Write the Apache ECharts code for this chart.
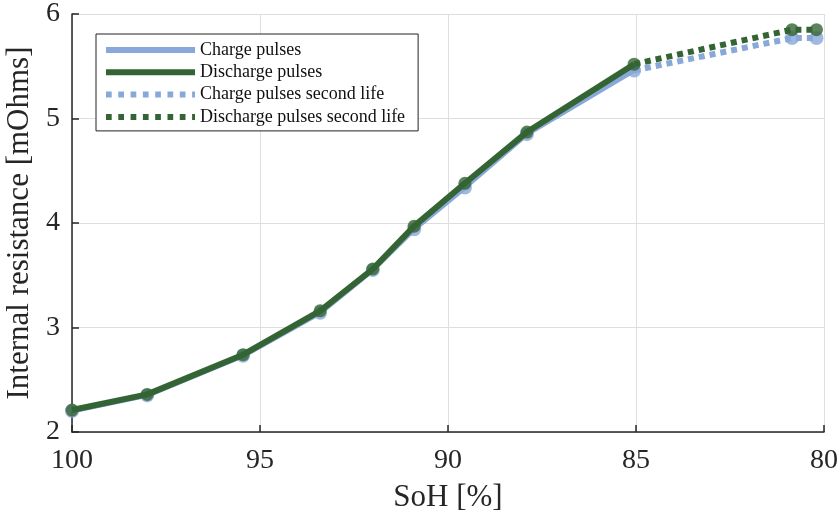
<!DOCTYPE html>
<html>
<head>
<meta charset="utf-8">
<script src="https://cdn.jsdelivr.net/npm/echarts@6/dist/echarts.min.js"></script>
<style>html,body{margin:0;padding:0;background:#fff}#c{width:840px;height:513px}</style>
</head>
<body>
<div id="c"></div>
<script>
// Data
const sohFirst = [100, 98, 95.45, 93.4, 92, 90.9, 89.55, 87.9, 85.05];
const chargeFirst = [2.2, 2.35, 2.73, 3.14, 3.55, 3.94, 4.34, 4.85, 5.46];
const dischargeFirst = [2.21, 2.36, 2.74, 3.16, 3.56, 3.97, 4.38, 4.87, 5.52];
const sohSecond = [85.05, 80.85, 80.2];
const chargeSecond = [5.46, 5.77, 5.77];
const dischargeSecond = [5.52, 5.85, 5.85];
const xTicks = [100, 95, 90, 85, 80];
const yTicks = [2, 3, 4, 5, 6];
const seriesNames = ['Charge pulses', 'Discharge pulses', 'Charge pulses second life', 'Discharge pulses second life'];

const blue = '#88a8d9';
const green = '#346434';
const font = '"Liberation Serif", "Times New Roman", serif';
const pair = (xs, ys) => xs.map((x, i) => [x, ys[i]]);

// legend icons: a solid bar and a row of square dots
const solidIcon = 'path://M0,0h89v6h-89z';
let dotPath = 'path://';
for (let k = 0; k < 8; k++) {
  const x0 = k * 12.3;
  const w = Math.min(5.7, 89 - x0);
  dotPath += `M${x0.toFixed(1)},0h${w.toFixed(1)}v6h-${w.toFixed(1)}z `;
}
const dotIcon = dotPath.trim();

const chart = echarts.init(document.getElementById('c'), null, {renderer: 'canvas'});
chart.setOption({
  animation: false,
  backgroundColor: '#fff',
  grid: {left: 72, right: 16, top: 14, bottom: 81, containLabel: false, outerBoundsMode: 'none'},
  legend: {
    left: 96, top: 34,
    orient: 'vertical',
    padding: [7, 13, 5, 10],
    itemGap: 4.3,
    itemWidth: 89, itemHeight: 6,
    borderColor: '#222', borderWidth: 1,
    backgroundColor: '#fff',
    textStyle: {fontFamily: font, fontSize: 18, color: '#111'},
    data: [
      {name: seriesNames[0], icon: solidIcon},
      {name: seriesNames[1], icon: solidIcon},
      {name: seriesNames[2], icon: dotIcon},
      {name: seriesNames[3], icon: dotIcon}
    ]
  },
  xAxis: {
    type: 'value', inverse: true, min: 80, max: 100, interval: 5,
    name: 'SoH [%]', nameLocation: 'middle', nameGap: 50,
    nameTextStyle: {fontFamily: font, fontSize: 31, color: '#262626'},
    axisLine: {show: true, lineStyle: {color: '#262626', width: 1.5}},
    axisTick: {show: true, inside: true, length: 7, lineStyle: {color: '#262626', width: 1.5}},
    axisLabel: {fontFamily: font, fontSize: 28, color: '#262626', margin: 15,
      formatter: v => xTicks.includes(v) ? String(v) : ''},
    splitLine: {show: true, lineStyle: {color: '#dedede', width: 1}}
  },
  yAxis: {
    type: 'value', min: 2, max: 6, interval: 1,
    name: 'Internal resistance [mOhms]', nameLocation: 'middle', nameGap: 29,
    nameTextStyle: {fontFamily: font, fontSize: 31, color: '#262626'},
    axisLine: {show: true, lineStyle: {color: '#262626', width: 1.5}},
    axisTick: {show: true, inside: true, length: 7, lineStyle: {color: '#262626', width: 1.5}},
    axisLabel: {fontFamily: font, fontSize: 28, color: '#262626', margin: 12,
      formatter: v => yTicks.includes(v) ? String(v) : ''},
    splitLine: {show: true, lineStyle: {color: '#dedede', width: 1}}
  },
  series: [
    {name: seriesNames[0], type: 'line', data: pair(sohFirst, chargeFirst), symbol: 'none',
      lineStyle: {color: blue, width: 5}, itemStyle: {color: blue}, z: 2},
    {name: seriesNames[1], type: 'line', data: pair(sohFirst, dischargeFirst), symbol: 'none',
      lineStyle: {color: green, width: 6}, itemStyle: {color: green}, z: 4},
    {name: seriesNames[2], type: 'line', data: pair(sohSecond, chargeSecond), symbol: 'none',
      lineStyle: {color: blue, width: 6, type: [6, 5]}, itemStyle: {color: blue}, z: 2},
    {name: seriesNames[3], type: 'line', data: pair(sohSecond, dischargeSecond), symbol: 'none',
      lineStyle: {color: green, width: 6, type: [6, 5]}, itemStyle: {color: green}, z: 4},
    {name: 'cm1', type: 'scatter', data: pair(sohFirst, chargeFirst), symbolSize: 14,
      itemStyle: {color: blue}, z: 3},
    {name: 'cm2', type: 'scatter', data: pair(sohSecond.slice(1), chargeSecond.slice(1)), symbolSize: 14,
      itemStyle: {color: blue}, z: 3},
    {name: 'dm1', type: 'scatter', data: pair(sohFirst, dischargeFirst), symbolSize: 13,
      itemStyle: {color: green}, z: 5},
    {name: 'dm2', type: 'scatter', data: pair(sohSecond.slice(1), dischargeSecond.slice(1)), symbolSize: 13,
      itemStyle: {color: green}, z: 5}
  ]
});
</script>
</body>
</html>
